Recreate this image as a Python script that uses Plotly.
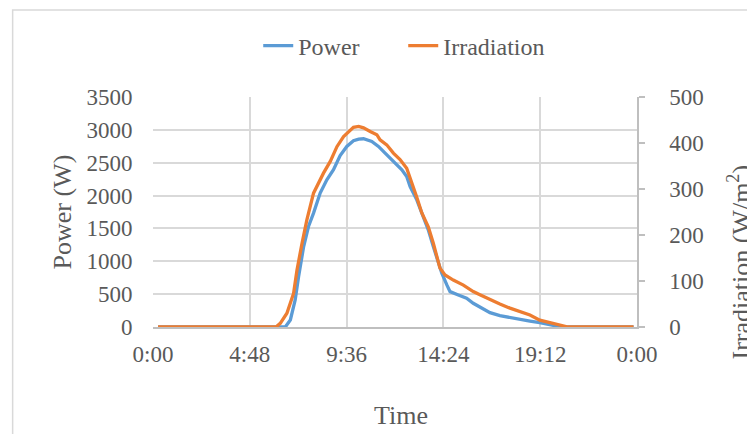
import plotly.graph_objects as go

# Time of day in hours
time_power = [0.25, 2, 4, 6.0, 6.56, 6.81, 7.05, 7.22, 7.47, 7.71, 7.96, 8.29, 8.62, 8.95, 9.28,
              9.61, 9.94, 10.2, 10.44, 10.85, 11.18, 11.51, 11.92, 12.34, 12.58, 12.75, 13.08,
              13.33, 13.65, 13.9, 14.15, 14.32, 14.57, 14.73, 15.14, 15.55, 15.88, 16.21, 16.71,
              17.2, 17.7, 18.19, 18.69, 19.18, 19.68, 20.17, 20.5, 22, 23.83]
power = [0, 0, 0, 0, 0, 107, 411, 767, 1224, 1529, 1733, 2038, 2240, 2393, 2610,
         2748, 2835, 2860, 2865, 2824, 2748, 2647, 2519, 2393, 2291, 2138, 1935,
         1733, 1478, 1224, 971, 818, 640, 538, 488, 437, 361, 309, 218,
         172, 142, 117, 91, 66, 30, 5, 0, 0, 0]

time_irr = [0.25, 2, 4, 6.1, 6.31, 6.64, 6.97, 7.14, 7.39, 7.63, 7.96, 8.46, 8.79, 9.12, 9.45,
            9.78, 9.94, 10.2, 10.44, 10.77, 11.1, 11.26, 11.59, 11.92, 12.25, 12.58, 12.83,
            13.08, 13.33, 13.65, 13.9, 14.07, 14.23, 14.48, 14.89, 15.39, 15.88, 16.21, 16.71,
            17.2, 17.7, 18.19, 18.69, 19.18, 19.68, 20.17, 20.58, 22, 23.83]
irradiation = [0, 0, 0, 0, 8, 30, 73, 124, 182, 233, 291, 335, 360, 392, 414,
               429, 434, 436, 433, 425, 418, 407, 396, 378, 364, 345, 316,
               282, 248, 218, 182, 153, 128, 113, 102, 91, 77, 70, 59,
               50, 41, 33, 26, 15, 9, 4, 0, 0, 0]

x_tickvals = [0, 4.8, 9.6, 14.4, 19.2, 24]
x_ticktext = ["0:00", "4:48", "9:36", "14:24", "19:12", "0:00"]
power_ticks = [0, 500, 1000, 1500, 2000, 2500, 3000, 3500]
irr_ticks = [0, 100, 200, 300, 400, 500]

FONT = "Liberation Serif, Times New Roman, serif"
TXT = "#595959"
GRID = "#D9D9D9"
AXL = "#BFBFBF"

fig = go.Figure()
fig.add_trace(go.Scatter(x=time_power, y=power, name="Power", mode="lines",
                         line=dict(color="#5B9BD5", width=3.3)))
fig.add_trace(go.Scatter(x=time_irr, y=irradiation, name="Irradiation", mode="lines",
                         line=dict(color="#ED7D31", width=3.3), yaxis="y2"))

fig.update_layout(
    width=747, height=426,
    margin=dict(l=144.5, r=118, t=89, b=107),
    paper_bgcolor="white", plot_bgcolor="white",
    font=dict(family=FONT, color=TXT, size=23),
    showlegend=True,
    legend=dict(orientation="h", x=0.517, xanchor="center", y=1.222, yanchor="middle",
                entrywidth=100, entrywidthmode="pixels",
                font=dict(size=24, color=TXT), bgcolor="rgba(0,0,0,0)"),
    xaxis=dict(range=[0, 24], tickvals=x_tickvals, ticktext=x_ticktext,
               showgrid=True, gridcolor=GRID, gridwidth=1.5, zeroline=False,
               showline=True, linecolor=AXL, linewidth=1.5,
               ticks="outside", ticklen=6, tickcolor="rgba(0,0,0,0)",
               tickfont=dict(size=23, color=TXT)),
    yaxis=dict(range=[0, 3500], tickvals=power_ticks, showgrid=True, gridcolor=GRID,
               gridwidth=1.5, zeroline=False, showline=False,
               ticks="outside", ticklen=15, tickcolor="rgba(0,0,0,0)",
               tickfont=dict(size=23, color=TXT)),
    yaxis2=dict(range=[0, 500], tickvals=irr_ticks, overlaying="y", side="right",
                showgrid=False, zeroline=False, showline=True, linecolor=AXL, linewidth=1.5,
                ticks="outside", ticklen=6, tickcolor=AXL, tickwidth=1.5,
                ticklabelstandoff=20, tickfont=dict(size=23, color=TXT)),
    annotations=[
        dict(text="Power (W)", xref="paper", yref="paper", x=-0.187, y=0.5,
             textangle=-90, showarrow=False, font=dict(size=26, color=TXT),
             xanchor="center", yanchor="middle"),
        dict(text="Irradiation (W/m<sup>2</sup>)", xref="paper", yref="paper", x=1.212, y=0.283,
             textangle=-90, showarrow=False, font=dict(size=26, color=TXT),
             xanchor="center", yanchor="middle"),
        dict(text="Time", xref="paper", yref="paper", x=0.513, y=-0.383,
             showarrow=False, font=dict(size=26, color=TXT),
             xanchor="center", yanchor="middle"),
    ],
    shapes=[dict(type="rect", xref="paper", yref="paper", x0=-0.29, x1=1.4, y0=-0.6, y1=1.378,
                 line=dict(color=GRID, width=1.5), fillcolor="rgba(0,0,0,0)", layer="below")],
)

fig.write_html("out.html")
